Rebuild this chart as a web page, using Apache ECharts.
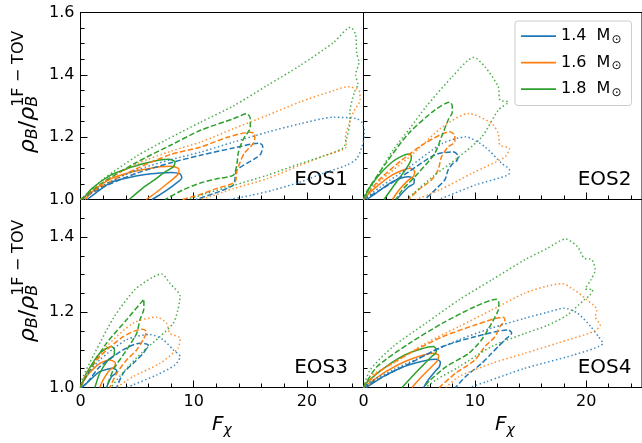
<!DOCTYPE html>
<html>
<head>
<meta charset="utf-8">
<script src="https://cdn.jsdelivr.net/npm/echarts@6/dist/echarts.min.js"></script>
<style>
  html, body { margin: 0; padding: 0; background: #fff; }
  #chart { width: 642px; height: 443px; }
</style>
</head>
<body>
<div id="chart"></div>
<script>
// ---- Contour data: [F_chi, rho_B / rho_B^(1F-TOV)] ----
// Each contour runs from the lower axis along the upper edge, round the tip,
// and back along the lower edge.
const massLabels = ['1.4', '1.6', '1.8'];
const eosNames = ['EOS1', 'EOS2', 'EOS3', 'EOS4'];

// EOS1
const eos1_14_solid = [[0.6,1.0],[1.5,1.025],[2.7,1.055],[4.2,1.07],[5.7,1.08],[7.0,1.085],[8.0,1.087],[8.8,1.082],[8.95,1.07],[8.3,1.048],[7.2,1.02],[6.3,1.0]];
const eos1_16_solid = [[0.4,1.0],[1.2,1.03],[2.7,1.067],[4.2,1.085],[5.7,1.097],[7.0,1.105],[8.0,1.107],[8.7,1.097],[8.6,1.08],[7.7,1.052],[6.6,1.02],[5.8,1.0]];
const eos1_18_solid = [[0.2,1.0],[1.0,1.035],[2.7,1.079],[4.2,1.1],[5.7,1.116],[7.0,1.127],[7.8,1.129],[8.35,1.12],[8.2,1.105],[7.4,1.087],[6.5,1.062],[5.6,1.04],[4.3,1.0]];
const eos1_14_dashed = [[0,1.0],[2,1.04],[5,1.085],[8,1.118],[10.6,1.142],[13.5,1.165],[15.8,1.181],[16.1,1.17],[15.9,1.145],[15.4,1.131],[13.8,1.094],[13.65,1.067],[13.5,1.046],[12,1.022],[10.2,1.0]];
const eos1_16_dashed = [[0,1.0],[2,1.045],[5,1.1],[8,1.145],[10.6,1.168],[13,1.2],[15.0,1.216],[15.4,1.21],[15.35,1.185],[14.5,1.15],[14.1,1.12],[13.8,1.088],[13.65,1.056],[12,1.035],[10.5,1.015],[9,1.0]];
const eos1_18_dashed = [[0,1.0],[2,1.055],[5,1.12],[8,1.175],[10.6,1.222],[13.5,1.259],[14.7,1.275],[15.0,1.26],[15.0,1.232],[14.4,1.195],[13.95,1.152],[13.8,1.11],[13.5,1.078],[12,1.066],[10.6,1.053],[9,1.03],[7.5,1.0]];
const eos1_14_dotted = [[0,1.0],[2,1.045],[5,1.095],[8,1.128],[10.6,1.152],[13.5,1.184],[16.5,1.216],[19.4,1.243],[22.4,1.264],[24.4,1.259],[24.9,1.245],[25.1,1.21],[24.9,1.174],[24.4,1.131],[23.5,1.11],[21.5,1.085],[19.4,1.056],[17,1.03],[15,1.013],[13.2,1.0]];
const eos1_16_dotted = [[0,1.0],[2,1.055],[5,1.115],[8,1.155],[10.6,1.184],[13.5,1.227],[16.5,1.27],[19.4,1.313],[22.4,1.35],[23.6,1.362],[24.6,1.35],[24.7,1.32],[24.1,1.28],[23.7,1.24],[23.4,1.2],[23.5,1.17],[21.5,1.14],[19.4,1.11],[16.5,1.067],[13.5,1.035],[11.5,1.01],[10.5,1.0]];
const eos1_18_dotted = [[0,1.0],[2,1.065],[5,1.14],[7.5,1.19],[10.6,1.248],[13.5,1.3],[16.5,1.366],[19.4,1.43],[22.4,1.505],[23.85,1.553],[24.3,1.53],[24.4,1.47],[24.6,1.44],[24.3,1.40],[24.5,1.37],[24.2,1.345],[23.8,1.28],[23.8,1.25],[23.5,1.195],[23.2,1.165],[21.5,1.14],[19.4,1.115],[16.5,1.078],[13.5,1.045],[11,1.018],[9.5,1.0]];

// EOS2
const eos2_14_solid = [[0.3,1.0],[1.1,1.02],[2.6,1.057],[4.05,1.073],[4.56,1.065],[4.5,1.05],[4.05,1.041],[3.3,1.014],[3.0,1.0]];
const eos2_16_solid = [[0,1.0],[0.8,1.03],[2.6,1.079],[4.2,1.1],[4.6,1.09],[4.5,1.075],[4.05,1.063],[3.17,1.03],[2.6,1.0]];
const eos2_18_solid = [[0,1.0],[0.8,1.052],[2.6,1.121],[4.05,1.146],[4.3,1.14],[4.25,1.125],[3.76,1.095],[2.88,1.052],[1.84,1.0]];
const eos2_14_dashed = [[0,1.0],[2.0,1.041],[4.05,1.089],[6.4,1.143],[8.04,1.153],[8.5,1.14],[8.4,1.125],[8.04,1.116],[7.6,1.095],[7.3,1.063],[6.4,1.03],[5.5,1.0]];
const eos2_16_dashed = [[0,1.0],[1.4,1.063],[3.46,1.127],[5.5,1.18],[7.74,1.217],[8.2,1.205],[8.2,1.185],[7.6,1.169],[7.0,1.137],[6.7,1.095],[6.1,1.063],[4.9,1.03],[4.05,1.0]];
const eos2_18_dashed = [[0,1.0],[0.2,1.02],[2.0,1.116],[4.05,1.212],[6.4,1.287],[7.74,1.312],[7.97,1.3],[7.97,1.28],[7.6,1.255],[7.0,1.201],[6.4,1.148],[4.9,1.084],[3.46,1.03],[2.9,1.0]];
const eos2_14_dotted = [[0,1.0],[1.5,1.04],[4.14,1.105],[7.1,1.18],[9.16,1.201],[10.9,1.169],[12.4,1.116],[13.1,1.095],[13.0,1.079],[10.0,1.046],[6.8,1.0]];
const eos2_16_dotted = [[0,1.0],[1.5,1.06],[4.14,1.137],[7.1,1.233],[9.45,1.276],[11.5,1.244],[12.1,1.212],[12.25,1.175],[13.1,1.164],[12.7,1.137],[9.74,1.084],[6.8,1.03],[4.7,1.0]];
const eos2_18_dotted = [[0,1.0],[1,1.06],[2.66,1.159],[4.2,1.23],[5.6,1.297],[7.97,1.394],[9.9,1.456],[10.9,1.426],[12.1,1.362],[12.25,1.319],[13.0,1.313],[12.1,1.287],[10.6,1.2],[8.57,1.137],[6.2,1.073],[4.5,1.02],[3.9,1.0]];

// EOS3
const eos3_14_solid = [[0.1,1.0],[0.53,1.011],[1.7,1.042],[2.88,1.051],[3.2,1.045],[3.1,1.037],[2.74,1.029],[2.3,1.0]];
const eos3_16_solid = [[0,1.0],[0.53,1.029],[1.7,1.064],[2.6,1.073],[3.08,1.065],[3.0,1.055],[2.6,1.047],[2.0,1.02],[1.7,1.0]];
const eos3_18_solid = [[0,1.0],[0.1,1.008],[0.53,1.038],[1.7,1.091],[2.74,1.109],[3.0,1.1],[2.95,1.085],[2.44,1.073],[1.7,1.038],[1.27,1.0]];
const eos3_14_dashed = [[0.1,1.0],[0.53,1.011],[1.7,1.055],[3.77,1.1],[5.25,1.118],[5.98,1.113],[5.54,1.091],[4.65,1.064],[3.77,1.038],[3.2,1.0]];
const eos3_16_dashed = [[0,1.0],[0.23,1.02],[1.7,1.082],[3.77,1.135],[5.4,1.155],[5.84,1.149],[5.54,1.127],[4.96,1.1],[4.07,1.073],[3.2,1.038],[2.6,1.0]];
const eos3_18_dashed = [[0,1.0],[0.82,1.047],[2.3,1.118],[4.07,1.18],[5.6,1.235],[5.6,1.21],[5.25,1.18],[4.96,1.144],[4.07,1.1],[2.9,1.047],[2.3,1.0]];
const eos3_14_dotted = [[0,1.0],[0.23,1.02],[1.7,1.073],[4.07,1.127],[6.13,1.141],[7.3,1.127],[8.2,1.1],[8.8,1.082],[8.35,1.06],[6.7,1.033],[4.65,1.007],[4.1,1.0]];
const eos3_16_dotted = [[0,1.0],[0.53,1.038],[2.3,1.109],[4.65,1.171],[6.7,1.187],[7.6,1.171],[7.9,1.144],[8.8,1.131],[8.6,1.104],[7.0,1.064],[4.65,1.029],[3.2,1.0]];
const eos3_18_dotted = [[0,1.0],[0.1,1.02],[1.24,1.091],[3.0,1.189],[4.8,1.26],[6.3,1.292],[7.17,1.302],[7.9,1.277],[8.8,1.242],[8.6,1.206],[8.2,1.171],[7.0,1.135],[5.5,1.095],[4.2,1.055],[3.2,1.02],[2.7,1.0]];

// EOS4
const eos4_14_solid = [[0.2,1.0],[0.5,1.005],[2.0,1.033],[4.05,1.06],[6.56,1.075],[6.9,1.068],[6.8,1.055],[6.56,1.047],[5.8,1.02],[5.4,1.0]];
const eos4_16_solid = [[0,1.0],[0.5,1.011],[2.0,1.042],[4.05,1.073],[6.27,1.091],[6.75,1.085],[6.65,1.072],[6.27,1.06],[5.23,1.029],[4.35,1.0]];
const eos4_18_solid = [[0,1.0],[0.2,1.011],[2.0,1.055],[4.05,1.091],[6.27,1.109],[6.55,1.1],[6.45,1.09],[6.1,1.082],[4.94,1.047],[3.46,1.0]];
const eos4_14_dashed = [[0,1.0],[1.2,1.02],[4.14,1.064],[7.1,1.109],[10.0,1.135],[13.0,1.153],[13.3,1.145],[12.7,1.127],[12.1,1.109],[11.5,1.091],[10.6,1.064],[9.16,1.029],[8.27,1.0]];
const eos4_16_dashed = [[0,1.0],[1.2,1.038],[4.14,1.091],[7.1,1.135],[10.0,1.166],[12.55,1.187],[12.7,1.18],[12.25,1.162],[11.8,1.135],[10.9,1.109],[10.0,1.073],[8.27,1.038],[6.8,1.0]];
const eos4_18_dashed = [[0,1.0],[1.2,1.055],[4.14,1.118],[7.1,1.171],[10.0,1.215],[11.96,1.235],[12.15,1.225],[12.1,1.206],[11.5,1.171],[10.6,1.127],[9.45,1.091],[7.4,1.055],[6.0,1.02],[5.4,1.0]];
const eos4_14_dotted = [[0,1.0],[0.6,1.015],[2.66,1.047],[5.6,1.087],[8.57,1.127],[11.5,1.158],[14.47,1.184],[16.5,1.2],[18.0,1.211],[19.2,1.198],[20.4,1.162],[21.1,1.135],[21.5,1.118],[18.9,1.087],[14.47,1.051],[11,1.015],[9.5,1.0]];
const eos4_16_dotted = [[0,1.0],[0.6,1.03],[2.66,1.064],[5.6,1.118],[8.57,1.162],[11.5,1.206],[14.47,1.251],[16.5,1.27],[17.86,1.276],[18.9,1.26],[20.07,1.233],[20.96,1.206],[20.8,1.189],[21.25,1.166],[20.66,1.149],[17.4,1.118],[14.47,1.091],[11.5,1.064],[8.57,1.029],[7.4,1.0]];
const eos4_18_dotted = [[0,1.0],[0.6,1.047],[2.66,1.109],[5.6,1.171],[8.57,1.233],[11.5,1.286],[14.5,1.34],[16.5,1.37],[18.15,1.395],[19.2,1.375],[19.8,1.344],[20.5,1.34],[20.8,1.313],[20.4,1.286],[19.9,1.262],[20.6,1.26],[20.3,1.245],[19.8,1.233],[18.3,1.193],[16.5,1.165],[14.5,1.144],[11.5,1.109],[8.57,1.055],[6.5,1.02],[5.6,1.0]];

// Axis ranges and ticks
const xRange = [0, 25];
const xTickStep = 10;
const yRangeTop = [1.0, 1.6];
const yRangeBottom = [1.0, 1.5];
const yTickStep = 0.2;

// ---- Assembly ----
const contourSets = [
  { solid: [eos1_14_solid, eos1_16_solid, eos1_18_solid], dashed: [eos1_14_dashed, eos1_16_dashed, eos1_18_dashed], dotted: [eos1_14_dotted, eos1_16_dotted, eos1_18_dotted] },
  { solid: [eos2_14_solid, eos2_16_solid, eos2_18_solid], dashed: [eos2_14_dashed, eos2_16_dashed, eos2_18_dashed], dotted: [eos2_14_dotted, eos2_16_dotted, eos2_18_dotted] },
  { solid: [eos3_14_solid, eos3_16_solid, eos3_18_solid], dashed: [eos3_14_dashed, eos3_16_dashed, eos3_18_dashed], dotted: [eos3_14_dotted, eos3_16_dotted, eos3_18_dotted] },
  { solid: [eos4_14_solid, eos4_16_solid, eos4_18_solid], dashed: [eos4_14_dashed, eos4_16_dashed, eos4_18_dashed], dotted: [eos4_14_dotted, eos4_16_dotted, eos4_18_dotted] }
];

const COLORS = ['#1f77b4', '#ff7f0e', '#2ca02c'];
const FONT = '"DejaVu Sans", sans-serif';
const LEVEL_STYLE = {
  solid:  { type: 'solid', opacity: 1 },
  dashed: { type: [5.5, 2.4], opacity: 1 },
  dotted: { type: [1.5, 2.5], opacity: 0.85 }
};

// Panel rectangles (2 x 2, no spacing)
const gridRects = [
  { left: 80.5,  top: 12.5,  width: 283, height: 187 },
  { left: 363.5, top: 12.5,  width: 283, height: 187 },
  { left: 80.5,  top: 199.5, width: 283, height: 188 },
  { left: 363.5, top: 199.5, width: 283, height: 188 }
];

const grids = gridRects.map(r => Object.assign({
  show: true, borderColor: '#000', borderWidth: 1, backgroundColor: 'transparent', containLabel: false
}, r));

const tickLine = { color: '#000', width: 1 };

const xAxes = gridRects.map((r, i) => ({
  gridIndex: i, type: 'value', min: xRange[0], max: xRange[1], interval: xTickStep,
  axisLine: { show: true, onZero: false, lineStyle: tickLine },
  axisTick: { show: true, inside: true, length: 7, lineStyle: tickLine },
  minorTick: { show: true, splitNumber: 5, length: 4, lineStyle: tickLine },
  splitLine: { show: false }, minorSplitLine: { show: false },
  axisLabel: { show: i >= 2, showMaxLabel: false, margin: 6, fontSize: 16, color: '#000', fontFamily: FONT }
}));

const yAxes = gridRects.map((r, i) => {
  const range = i < 2 ? yRangeTop : yRangeBottom;
  return {
    gridIndex: i, type: 'value', min: range[0], max: range[1], interval: yTickStep,
    axisLine: { show: true, onZero: false, lineStyle: tickLine },
    axisTick: { show: true, inside: true, length: 7, lineStyle: tickLine },
    minorTick: { show: true, splitNumber: 4, length: 4, lineStyle: tickLine },
    splitLine: { show: false }, minorSplitLine: { show: false },
    axisLabel: {
      show: i % 2 === 0, showMaxLabel: i < 2, margin: 6, fontSize: 16, color: '#000', fontFamily: FONT,
      formatter: v => v.toFixed(1)
    }
  };
});

const series = [];
['solid', 'dashed', 'dotted'].forEach(level => {
  contourSets.forEach((set, p) => {
    set[level].forEach((pts, m) => {
      series.push({
        type: 'line', name: massLabels[m], xAxisIndex: p, yAxisIndex: p,
        data: pts, showSymbol: false, symbol: 'none', smooth: 0.25, clip: true, silent: true,
        lineStyle: { color: COLORS[m], width: 1.5, type: LEVEL_STYLE[level].type, opacity: LEVEL_STYLE[level].opacity, cap: 'butt' },
        itemStyle: { color: COLORS[m] },
        emphasis: { disabled: true }
      });
    });
  });
});

// ---- Text helpers ----
const measureCtx = document.createElement('canvas').getContext('2d');
function textWidth(str, font) { measureCtx.font = font; return measureCtx.measureText(str).width; }

// Rotated y-axis label: rho_B / rho_B^{1F-TOV}
function yLabel(cx, cy) {
  const big = 22, small = 16;
  const fBigI = 'italic ' + big + 'px ' + FONT;
  const fSmallI = 'italic ' + small + 'px ' + FONT;
  const fBig = big + 'px ' + FONT;
  const fSmall = small + 'px ' + FONT;
  const wRho = textWidth('ρ', fBigI);
  const wB = textWidth('B', fSmallI);
  const wSlash = textWidth('/', fBig);
  const sup = '1F − TOV';
  const wSup = textWidth(sup, fSmall);
  const x1 = wRho, x2 = x1 + wB, x3 = x2 + wSlash, x4 = x3 + wRho;
  const total = x4 + wSup;
  const t = (text, x, y, font) => ({ type: 'text', x: x, y: y, style: { text: text, font: font, fill: '#000', verticalAlign: 'middle', align: 'left' } });
  return {
    type: 'group', x: cx, y: cy + total / 2, rotation: Math.PI / 2,
    children: [
      t('ρ', 0, 0, fBigI),
      t('B', x1, 5, fSmallI),
      t('/', x2, 0, fBig),
      t('ρ', x3, 0, fBigI),
      t('B', x4, 5, fSmallI),
      t(sup, x4, -9, fSmall)
    ]
  };
}

// x-axis label: F_chi
function xLabel(cx, cy) {
  const fF = 'italic 20px ' + FONT, fChi = 'italic 14px ' + FONT;
  const wF = textWidth('F', fF), wChi = textWidth('χ', fChi);
  const x0 = cx - (wF + wChi) / 2;
  return {
    type: 'group', x: x0, y: cy,
    children: [
      { type: 'text', x: 0, y: 0, style: { text: 'F', font: fF, fill: '#000', verticalAlign: 'middle' } },
      { type: 'text', x: wF, y: 5, style: { text: 'χ', font: fChi, fill: '#000', verticalAlign: 'middle' } }
    ]
  };
}

// Panel tags
const tagPos = [[348, 179.5], [631.5, 180], [348, 368], [631.5, 368]];
const tags = eosNames.map((name, i) => ({
  type: 'text', x: tagPos[i][0], y: tagPos[i][1],
  style: { text: name, font: '20px ' + FONT, fill: '#000', align: 'right', verticalAlign: 'middle' }
}));

const option = {
  animation: false,
  backgroundColor: '#fff',
  grid: grids,
  xAxis: xAxes,
  yAxis: yAxes,
  legend: {
    data: massLabels,
    orient: 'vertical', left: 515, top: 21,
    icon: 'path://M0,0L40,0L40,2L0,2Z',
    itemWidth: 35, itemHeight: 14, itemGap: 9, itemTextGap: 14,
    padding: [7, 10, 7, 6],
    backgroundColor: '#fff', borderColor: '#cccccc', borderWidth: 1, borderRadius: 3,
    selectedMode: false,
    formatter: name => name + '  M{sub|⊙}',
    textStyle: {
      fontSize: 16, fontFamily: FONT, color: '#000', lineHeight: 15,
      rich: { sub: { fontSize: 12, fontFamily: FONT, color: '#000', padding: [7, 0, 0, 1] } }
    }
  },
  graphic: [
    yLabel(28, 92), yLabel(28, 281),
    xLabel(222, 425), xLabel(505, 425)
  ].concat(tags),
  series: series
};

const chart = echarts.init(document.getElementById('chart'), null, { renderer: 'canvas' });
chart.setOption(option);
</script>
</body>
</html>
